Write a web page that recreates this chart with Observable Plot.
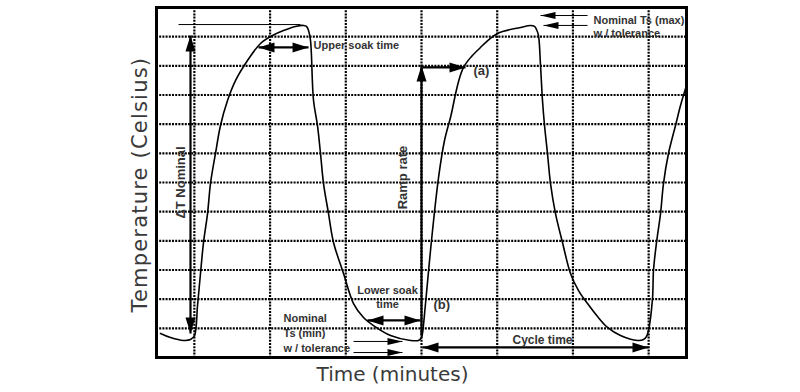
<!DOCTYPE html>
<html><head><meta charset="utf-8">
<script src="https://cdn.jsdelivr.net/npm/d3@7"></script>
<script src="https://cdn.jsdelivr.net/npm/@observablehq/plot@0.6"></script>
<style>body{margin:0;background:#fff}</style>
</head><body><div id="chart"></div>
<script>
// ---- curve (time in minutes, temperature in °C) ----
const time = [0.53,1.85,3.57,4.49,5.02,5.42,5.81,6.21,6.74,7.13,7.79,8.45,9.38,10.43,12.02,13.74,15.32,16.77,18.36,19.42,19.81,20.08,20.34,20.74,21.26,21.66,22.06,22.72,23.38,24.70,26.02,27.34,28.66,30.91,33.55,34.60,35.00,35.13,35.53,36.32,37.25,38.04,38.83,40.55,42.79,45.04,48.08,49.40,49.92,50.19,50.45,50.72,50.98,51.25,51.64,52.04,52.70,53.62,54.68,55.74,56.93,58.25,59.57,61.28,63.53,64.32,64.72,64.98,65.51,65.64,66.04,66.57,66.96,67.62,68.55,69.21,70.00];
const temp = [-43.5,-46.3,-48.3,-47.7,-44.9,-24.3,-2.4,18.9,38.7,59.3,79.9,99.1,116.2,129.9,143.7,155.3,160.8,164.2,167.0,167.7,167.0,164.2,157.4,116.2,99.1,79.9,59.3,38.7,18.9,-2.4,-23.0,-32.6,-38.1,-44.9,-48.3,-48.3,-46.3,-43.5,-23.0,20.2,63.4,88.8,104.6,138.9,152.6,162.2,166.3,167.7,167.0,164.9,160.8,140.2,116.2,99.1,79.9,59.3,38.7,18.9,-2.4,-14.1,-23.0,-31.9,-39.4,-44.9,-48.3,-47.7,-45.6,-41.5,-19.5,-0.3,18.9,38.7,59.3,79.9,99.1,112.8,126.5];

// ---- grid ----
const gridTimes = [5,15,25,35,45,55,65];
const gridTemps = [-40,-20,0,20,40,60,80,100,120,140,160];

// ---- annotations ----
const thickArrows = [
  {t1:13.47,T1:152.6,t2:20.08,T2:152.6,both:true},   // upper soak time
  {t1:4.49,T1:160.8,t2:4.49,T2:-43.5,both:true},      // delta T nominal
  {t1:35.0,T1:-44.9,t2:35.0,T2:140.2,both:false},     // ramp rate
  {t1:35.13,T1:138.9,t2:40.81,T2:138.9,both:false},   // (a)
  {t1:27.87,T1:-34.6,t2:34.87,T2:-34.6,both:true},    // lower soak time
  {t1:35.13,T1:-53.1,t2:64.98,T2:-53.1,both:true}     // cycle time
];
const thinArrows = [
  {t1:26.02,T1:-49.0,t2:32.49,T2:-49.0},
  {t1:26.02,T1:-56.6,t2:32.49,T2:-56.6},
  {t1:56.93,T1:174.5,t2:50.72,T2:174.5},
  {t1:56.93,T1:167.7,t2:51.11,T2:167.7}
];
const refLines = [{t1:2.91,T1:168.3,t2:19.02,T2:168.3}];

const labelsStart = [
  {text:"Upper soak time", t:20.74, T:153.9, size:11},
  {text:"Nominal Ts (max)", t:57.72, T:171.1, size:11},
  {text:"w / tolerance", t:57.72, T:162.2, size:11},
  {text:"(a)", t:41.87, T:136.8, size:13},
  {text:"(b)", t:36.59, T:-23.7, size:13},
  {text:"Nominal", t:16.77, T:-33.3, size:11},
  {text:"Ts (min)", t:16.77, T:-43.5, size:11},
  {text:"w / tolerance", t:16.77, T:-53.8, size:11},
  {text:"Cycle time", t:47.02, T:-48.3, size:12}
];
const labelsMiddle = [
  {text:"Lower soak", t:30.51, T:-14.1, size:11},
  {text:"time", t:30.51, T:-23.7, size:11}
];
const labelsRotated = [
  {text:"ΔT Nominal", t:3.17, T:60.0, size:13},
  {text:"Ramp rate", t:32.49, T:63.4, size:13}
];
const yTitle = "Temperature (Celsius)";
const xTitle = "Time (minutes)";

const curve = time.map((t,i)=>({t, T: temp[i]}));

function headSymbol(len, half){
  return {draw(ctx){ ctx.moveTo(0,0); ctx.lineTo(-half,len); ctx.lineTo(half,len); ctx.closePath(); }};
}
function angle(ax,ay,bx,by){ // direction from a to b, screen degrees clockwise from up
  if (bx>ax) return 90; if (bx<ax) return -90; return by>ay ? 0 : 180;
}
function headsOf(arrows){
  const out=[];
  for (const a of arrows){
    out.push({t:a.t2,T:a.T2,rot:angle(a.t1,a.T1,a.t2,a.T2)});
    if (a.both) out.push({t:a.t1,T:a.T1,rot:angle(a.t2,a.T2,a.t1,a.T1)});
  }
  return out;
}

const font = "Liberation Sans, Arial, sans-serif";
const ink = "#333";

const chart = Plot.plot({
  width: 800, height: 392,
  marginLeft: 156, marginRight: 114, marginTop: 7, marginBottom: 35,
  x: {domain:[0,70], axis:null},
  y: {domain:[-60,180], axis:null},
  style: {background:"#fff", overflow:"visible"},
  marks: [
    Plot.ruleX(gridTimes, {stroke:"#000", strokeWidth:2.2, strokeDasharray:"2,1.2"}),
    Plot.ruleY(gridTemps, {stroke:"#000", strokeWidth:2.2, strokeDasharray:"2,1.2"}),
    Plot.frame({stroke:"#000", strokeWidth:3}),
    Plot.line(curve, {x:"t", y:"T", stroke:"#000", strokeWidth:1.6, curve:"catmull-rom"}),
    Plot.link(refLines, {x1:"t1", y1:"T1", x2:"t2", y2:"T2", stroke:"#000", strokeWidth:1}),
    Plot.link(thinArrows, {x1:"t1", y1:"T1", x2:"t2", y2:"T2", stroke:"#000", strokeWidth:1}),
    Plot.dot(headsOf(thinArrows), {x:"t", y:"T", rotate:"rot", symbol:headSymbol(15,3.5), r:5, fill:"#000"}),
    Plot.link(thickArrows, {x1:"t1", y1:"T1", x2:"t2", y2:"T2", stroke:"#000", strokeWidth:2.2}),
    Plot.dot(headsOf(thickArrows), {x:"t", y:"T", rotate:"rot", symbol:headSymbol(16,5), r:5, fill:"#000"}),
    Plot.text(labelsStart, {x:"t", y:"T", text:"text", fontSize:"size", textAnchor:"start", fill:ink, fontWeight:"bold", fontFamily:font}),
    Plot.text(labelsMiddle, {x:"t", y:"T", text:"text", fontSize:"size", textAnchor:"middle", fill:ink, fontWeight:"bold", fontFamily:font}),
    Plot.text(labelsRotated, {x:"t", y:"T", text:"text", fontSize:"size", rotate:-90, fill:ink, fontWeight:"bold", fontFamily:font}),
    Plot.text([yTitle], {x:0, y:58.5, text:d=>d, dx:-16, rotate:-90, fontSize:21, fill:"#3a3a3a", fontFamily:"DejaVu Sans"}),
    Plot.text([xTitle], {x:31.17, y:-60, text:d=>d, dy:17, fontSize:20, fill:"#3a3a3a", fontFamily:"DejaVu Sans"})
  ]
});
// widen the letter spacing of the y title as in the reference
d3.select(chart).selectAll("text").filter(function(){ return this.textContent === yTitle; })
  .attr("letter-spacing", "1.2");
document.getElementById("chart").appendChild(chart);
</script>
</body></html>
